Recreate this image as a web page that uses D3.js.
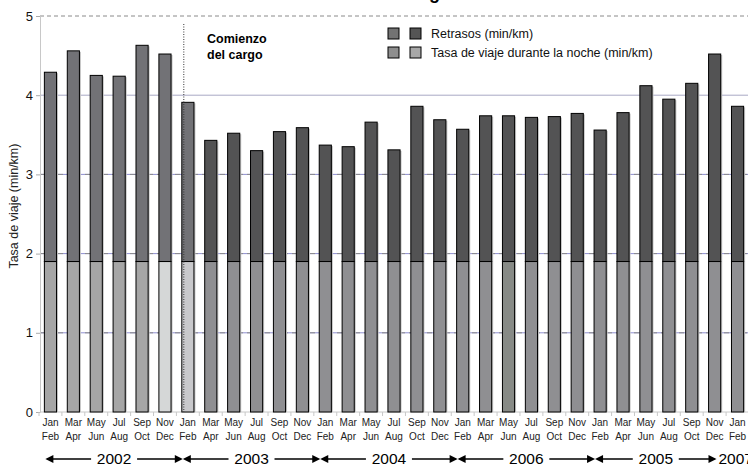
<!DOCTYPE html>
<html lang="es">
<head>
  <meta charset="utf-8" />
  <title>Tasa de viaje</title>
  <script src="https://d3js.org/d3.v7.min.js"></script>
  <style>
body {
  margin: 0;
  background: #fff;
  font-family: 'Liberation Sans', Arial, sans-serif;
}
svg { display: block; }
  </style>
</head>
<body>
<svg width="748" height="466"></svg>
<script>
    // bimonthly periods, Jan/Feb 2002 .. Jan/Feb 2007
    var periods = [
      'Jan Feb','Mar Apr','May Jun','Jul Aug','Sep Oct','Nov Dec',
      'Jan Feb','Mar Apr','May Jun','Jul Aug','Sep Oct','Nov Dec',
      'Jan Feb','Mar Apr','May Jun','Jul Aug','Sep Oct','Nov Dec',
      'Jan Feb','Mar Apr','May Jun','Jul Aug','Sep Oct','Nov Dec',
      'Jan Feb','Mar Apr','May Jun','Jul Aug','Sep Oct','Nov Dec',
      'Jan Feb'
    ];
    var years = ['2002', '2003', '2004', '2006', '2005', '2007'];
    var yearStart = [0, 6, 12, 18, 24, 30];

    var noche = [
      1.9, 1.9, 1.9, 1.9, 1.9, 1.9, 1.9, 1.9, 1.9, 1.9, 1.9, 1.9, 1.9, 1.9, 1.9, 1.9,
      1.9, 1.9, 1.9, 1.9, 1.9, 1.9, 1.9, 1.9, 1.9, 1.9, 1.9, 1.9, 1.9, 1.9, 1.9
    ];
    var retrasos = [
      2.39, 2.66, 2.35, 2.34, 2.73, 2.62, 2.01, 1.53, 1.62, 1.40, 1.64, 1.69, 1.47, 1.45, 1.76, 1.41,
      1.96, 1.79, 1.67, 1.84, 1.84, 1.82, 1.83, 1.87, 1.66, 1.88, 2.22, 2.05, 2.25, 2.62, 1.96
    ];
    var yTicks = [0, 1, 2, 3, 4, 5];
    var chargeStart = 6; // index of first period after the charge

    var svg = d3.select('svg');
    var plotTop = 16, plotBottom = 412, left = 40;

    var x = d3.scaleBand()
      .domain(d3.range(periods.length))
      .range([39, 749])
      .paddingInner(0.47)
      .paddingOuter(0.235);

    var y = d3.scaleLinear()
      .domain([0, 5])
      .range([plotBottom, plotTop]);

    // colours by phase
    var lowColor = function (i) {
      if (i < 5) return '#a6a6a6';
      if (i == 5) return '#d5d7d7';
      if (i == 6) return '#c9c9cc';
      if (i == 20) return '#878a86';
      return '#8f8f92';
    };
    var topColor = function (i) {
      return i <= chargeStart ? '#727276' : '#535354';
    };

    // title (mostly above the visible area)
    svg.append('text')
      .attr('x', 451)
      .attr('y', -1)
      .attr('text-anchor', 'end')
      .attr('font-weight', 'bold')
      .attr('font-size', 18)
      .text('Retrasos en la zona de cargo');

    // grid
    var grid = svg.append('g');
    grid.append('line')
      .attr('x1', left).attr('x2', 748)
      .attr('y1', y(4)).attr('y2', y(4))
      .attr('stroke', '#a9a9c4');
    [1, 2, 3].forEach(function (v) {
      grid.append('line')
        .attr('x1', left).attr('x2', 748)
        .attr('y1', y(v)).attr('y2', y(v))
        .attr('stroke', '#8f8fd0');
      grid.append('line')
        .attr('x1', left).attr('x2', 748)
        .attr('y1', y(v)).attr('y2', y(v))
        .attr('stroke', '#8a8a8a')
        .attr('stroke-dasharray', '5,4');
    });
    grid.append('line')
      .attr('x1', left).attr('x2', 748)
      .attr('y1', y(5)).attr('y2', y(5))
      .attr('stroke', '#8a8a8a')
      .attr('stroke-dasharray', '4,3');

    // axes
    var yAxis = svg.append('g')
      .attr('transform', 'translate(' + left + ',0)')
      .call(d3.axisLeft(y).tickValues(yTicks).tickFormat(d3.format('d')).tickSize(4).tickPadding(3));
    yAxis.select('.domain').attr('stroke', '#c8c8c8');
    yAxis.selectAll('.tick line').attr('stroke', '#aaa');
    yAxis.selectAll('text')
      .attr('font-family', 'Liberation Sans, Arial, sans-serif')
      .attr('font-size', 13)
      .attr('fill', '#111');

    svg.append('line')
      .attr('x1', left).attr('x2', 748)
      .attr('y1', plotBottom).attr('y2', plotBottom)
      .attr('stroke', '#c8c8c8');

    var step = x.step();
    svg.append('g').selectAll('line')
      .data(d3.range(periods.length))
      .enter().append('line')
      .attr('x1', function (i) { return x(i) - (step - x.bandwidth()) / 2; })
      .attr('x2', function (i) { return x(i) - (step - x.bandwidth()) / 2; })
      .attr('y1', plotBottom).attr('y2', plotBottom + 4)
      .attr('stroke', '#c8c8c8');

    svg.append('text')
      .attr('transform', 'translate(18,' + y(2.6) + ') rotate(-90)')
      .attr('text-anchor', 'middle')
      .attr('font-size', 12.5)
      .attr('fill', '#222')
      .text('Tasa de viaje (min/km)');

    // bars
    var bars = svg.append('g').selectAll('g')
      .data(d3.range(periods.length))
      .enter().append('g');

    bars.append('rect')
      .attr('x', function (i) { return x(i) + 1.5; })
      .attr('y', function (i) { return y(noche[i] + retrasos[i]) + 1; })
      .attr('width', x.bandwidth())
      .attr('height', function (i) { return plotBottom - y(noche[i] + retrasos[i]) - 1; })
      .attr('fill', '#c4c4c4');

    bars.append('rect')
      .attr('x', function (i) { return x(i); })
      .attr('y', function (i) { return y(noche[i]); })
      .attr('width', x.bandwidth())
      .attr('height', function (i) { return plotBottom - y(noche[i]); })
      .attr('fill', function (i) { return lowColor(i); })
      .attr('stroke', '#000');

    bars.append('rect')
      .attr('x', function (i) { return x(i); })
      .attr('y', function (i) { return y(noche[i] + retrasos[i]); })
      .attr('width', x.bandwidth())
      .attr('height', function (i) { return y(noche[i]) - y(noche[i] + retrasos[i]); })
      .attr('fill', function (i) { return topColor(i); })
      .attr('stroke', '#000');

    // start of the charge
    var cx = x(chargeStart) + 2;
    svg.append('line')
      .attr('x1', cx).attr('x2', cx)
      .attr('y1', 24).attr('y2', plotBottom)
      .attr('stroke', '#333')
      .attr('stroke-dasharray', '1,1.5');
    svg.append('text')
      .attr('x', 207).attr('y', 43)
      .attr('font-weight', 'bold')
      .attr('font-size', 12.5)
      .text('Comienzo');
    svg.append('text')
      .attr('x', 207).attr('y', 59)
      .attr('font-weight', 'bold')
      .attr('font-size', 12.5)
      .text('del cargo');

    // period labels
    var xl = svg.append('g')
      .attr('font-size', 10)
      .attr('fill', '#222')
      .attr('text-anchor', 'middle');
    xl.selectAll('text.a')
      .data(d3.range(periods.length))
      .enter().append('text')
      .attr('x', function (i) { return x(i) + x.bandwidth() / 2; })
      .attr('y', 426)
      .text(function (i) { return periods[i].split(' ')[0]; });
    xl.selectAll('text.b')
      .data(d3.range(periods.length))
      .enter().append('text')
      .attr('x', function (i) { return x(i) + x.bandwidth() / 2; })
      .attr('y', 440)
      .text(function (i) { return periods[i].split(' ')[1]; });

    // year arrows
    var ay = 459;
    var arrows = svg.append('g');
    var head = function (xp, dir) {
      arrows.append('path')
        .attr('d', 'M' + xp + ',' + ay + 'l' + (-8 * dir) + ',-4v8z')
        .attr('fill', '#000');
    };
    years.forEach(function (label, k) {
      var x0 = x(yearStart[k]) + 1;
      if (k == years.length - 1) {
        arrows.append('text')
          .attr('x', x0 - 14).attr('y', ay + 5)
          .attr('font-size', 15.5)
          .text(label);
        return;
      }
      var x1 = k == years.length - 2 ? x(yearStart[k + 1]) - 15 : x(yearStart[k + 1]) + 1;
      var mid = (x0 + x1) / 2;
      arrows.append('line')
        .attr('x1', x0 + 2).attr('x2', mid - 23)
        .attr('y1', ay).attr('y2', ay)
        .attr('stroke', '#000').attr('stroke-width', 1.5);
      arrows.append('line')
        .attr('x1', mid + 23).attr('x2', x1 - 2)
        .attr('y1', ay).attr('y2', ay)
        .attr('stroke', '#000').attr('stroke-width', 1.5);
      head(x0, -1);
      head(x1, 1);
      arrows.append('text')
        .attr('x', mid).attr('y', ay + 5)
        .attr('text-anchor', 'middle')
        .attr('font-size', 15.5)
        .text(label);
    });

    // legend
    var legend = svg.append('g').attr('transform', 'translate(388,28)');
    var legendRows = [
      { name: 'Retrasos (min/km)', colors: ['#737373', '#555555'] },
      { name: 'Tasa de viaje durante la noche (min/km)', colors: ['#8e8e8e', '#a8a8a8'] }
    ];
    legendRows.forEach(function (r, k) {
      r.colors.forEach(function (c, j) {
        legend.append('rect')
          .attr('x', j * 22).attr('y', k * 19)
          .attr('width', 11).attr('height', 11)
          .attr('fill', c)
          .attr('stroke', '#000');
      });
      legend.append('text')
        .attr('x', 43).attr('y', k * 19 + 10)
        .attr('font-size', 12.5)
        .attr('fill', '#111')
        .text(r.name);
    });
</script>
</body>
</html>
